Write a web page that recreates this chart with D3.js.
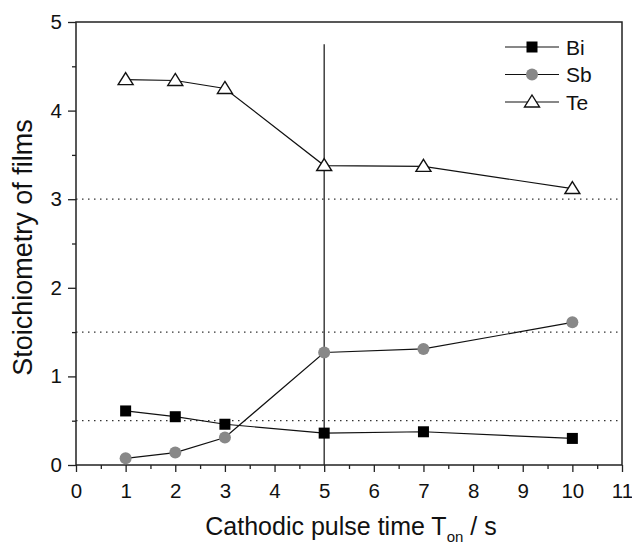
<!DOCTYPE html>
<html>
<head>
<meta charset="utf-8">
<script src="https://cdn.jsdelivr.net/npm/d3@7"></script>
<style>
  body { margin: 0; background: #fff; }
  svg { display: block; font-family: Arial, "Liberation Sans", sans-serif; }
</style>
</head>
<body>
<div id="chart"></div>
<script>
// data
const pulseTimes = [1, 2, 3, 5, 7, 10];
const biValues = [0.61, 0.545, 0.46, 0.36, 0.375, 0.30];
const sbValues = [0.075, 0.14, 0.31, 1.27, 1.31, 1.61];
const teValues = [4.35, 4.34, 4.25, 3.38, 3.37, 3.12];
const refLevels = [3, 1.5, 0.5];
const markerTime = 5;
const markerTop = 4.75;
const xTicks = [0, 1, 2, 3, 4, 5, 6, 7, 8, 9, 10, 11];
const yTicks = [0, 1, 2, 3, 4, 5];

const width = 632, height = 545;
const margin = { top: 22, right: 10, bottom: 80, left: 76 };

const svg = d3.select("#chart").append("svg")
    .attr("width", width)
    .attr("height", height);

const x = d3.scaleLinear().domain([0, 11]).range([margin.left, width - margin.right]);
const y = d3.scaleLinear().domain([0, 5]).range([height - margin.bottom, margin.top]);

// dotted reference lines
svg.selectAll("line.ref")
    .data(refLevels)
    .join("line")
    .attr("class", "ref")
    .attr("x1", x(0)).attr("x2", x(11))
    .attr("y1", d => y(d)).attr("y2", d => y(d))
    .attr("stroke", "#333")
    .attr("stroke-width", 1.3)
    .attr("stroke-dasharray", "1.5,4.5");

// vertical line at 5 s
svg.append("line")
    .attr("x1", x(markerTime)).attr("x2", x(markerTime))
    .attr("y1", y(0)).attr("y2", y(markerTop))
    .attr("stroke", "#222")
    .attr("stroke-width", 1.3);

// axes: major ticks labelled, minor ticks between
const xAxis = d3.axisBottom(x).tickValues(xTicks).tickSize(7).tickPadding(11).tickFormat(d3.format("d"));
const yAxis = d3.axisLeft(y).tickValues(yTicks).tickSize(8).tickPadding(6).tickFormat(d3.format("d"));

const gx = svg.append("g").attr("transform", `translate(0,${y(0)})`).call(xAxis);
const gy = svg.append("g").attr("transform", `translate(${x(0)},0)`).call(yAxis);

svg.append("g").attr("transform", `translate(0,${y(0)})`)
    .call(d3.axisBottom(x).tickValues(d3.range(0.5, 11, 1)).tickSize(4).tickFormat(""));
svg.append("g").attr("transform", `translate(${x(0)},0)`)
    .call(d3.axisLeft(y).tickValues(d3.range(0.5, 5, 1)).tickSize(4).tickFormat(""));

svg.selectAll(".domain").remove();
svg.selectAll(".tick line").attr("stroke", "#222").attr("stroke-width", 1.3);
[gx, gy].forEach(g => g.selectAll("text")
    .attr("font-size", 20.5)
    .attr("fill", "#111")
    .style("font-family", "Arial, 'Liberation Sans', sans-serif"));

// frame
svg.append("rect")
    .attr("x", x(0)).attr("y", y(5))
    .attr("width", x(11) - x(0)).attr("height", y(0) - y(5))
    .attr("fill", "none")
    .attr("stroke", "#222")
    .attr("stroke-width", 1.5);

// series
const series = [
    { name: "Bi", values: biValues, shape: "square" },
    { name: "Sb", values: sbValues, shape: "circle" },
    { name: "Te", values: teValues, shape: "triangle" }
];

const line = d3.line().x(d => x(d[0])).y(d => y(d[1]));

function drawMarker(g, shape) {
    if (shape === "square") {
        g.append("rect").attr("x", -5.5).attr("y", -5.5).attr("width", 11).attr("height", 11)
            .attr("fill", "#000");
    } else if (shape === "circle") {
        g.append("circle").attr("r", 6).attr("fill", "#888");
    } else {
        g.append("path").attr("d", "M0,-7 L7.5,5 L-7.5,5 Z")
            .attr("fill", "#fff").attr("stroke", "#111").attr("stroke-width", 1.4);
    }
}

series.forEach(s => {
    const pts = pulseTimes.map((t, i) => [t, s.values[i]]);
    svg.append("path")
        .datum(pts)
        .attr("d", line)
        .attr("fill", "none")
        .attr("stroke", "#111")
        .attr("stroke-width", 1.2);
    svg.append("g").selectAll("g")
        .data(pts)
        .join("g")
        .attr("transform", d => `translate(${x(d[0])},${y(d[1])})`)
        .each(function () { drawMarker(d3.select(this), s.shape); });
});

// legend
const legend = svg.append("g").attr("transform", "translate(505,47)");
series.forEach((s, i) => {
    const row = legend.append("g").attr("transform", `translate(0,${i * 27.5})`);
    row.append("line").attr("x1", 0).attr("x2", 54).attr("stroke", "#111").attr("stroke-width", 1.2);
    drawMarker(row.append("g").attr("transform", "translate(27,0)"), s.shape);
    row.append("text").attr("x", 61).attr("y", 7.5)
        .attr("font-size", 21).attr("fill", "#111").text(s.name);
});

// axis titles
const xt = svg.append("text")
    .attr("x", (x(0) + x(11)) / 2 + 2)
    .attr("y", 535)
    .attr("text-anchor", "middle")
    .attr("font-size", 25)
    .attr("fill", "#111");
xt.append("tspan").text("Cathodic pulse time T");
xt.append("tspan").attr("font-size", 15).attr("dy", 7).text("on");
xt.append("tspan").attr("dy", -7).text(" / s");

svg.append("text")
    .attr("transform", `translate(32,${(y(0) + y(5)) / 2 + 4}) rotate(-90)`)
    .attr("text-anchor", "middle")
    .attr("font-size", 27)
    .attr("fill", "#111")
    .text("Stoichiometry of films");
</script>
</body>
</html>
